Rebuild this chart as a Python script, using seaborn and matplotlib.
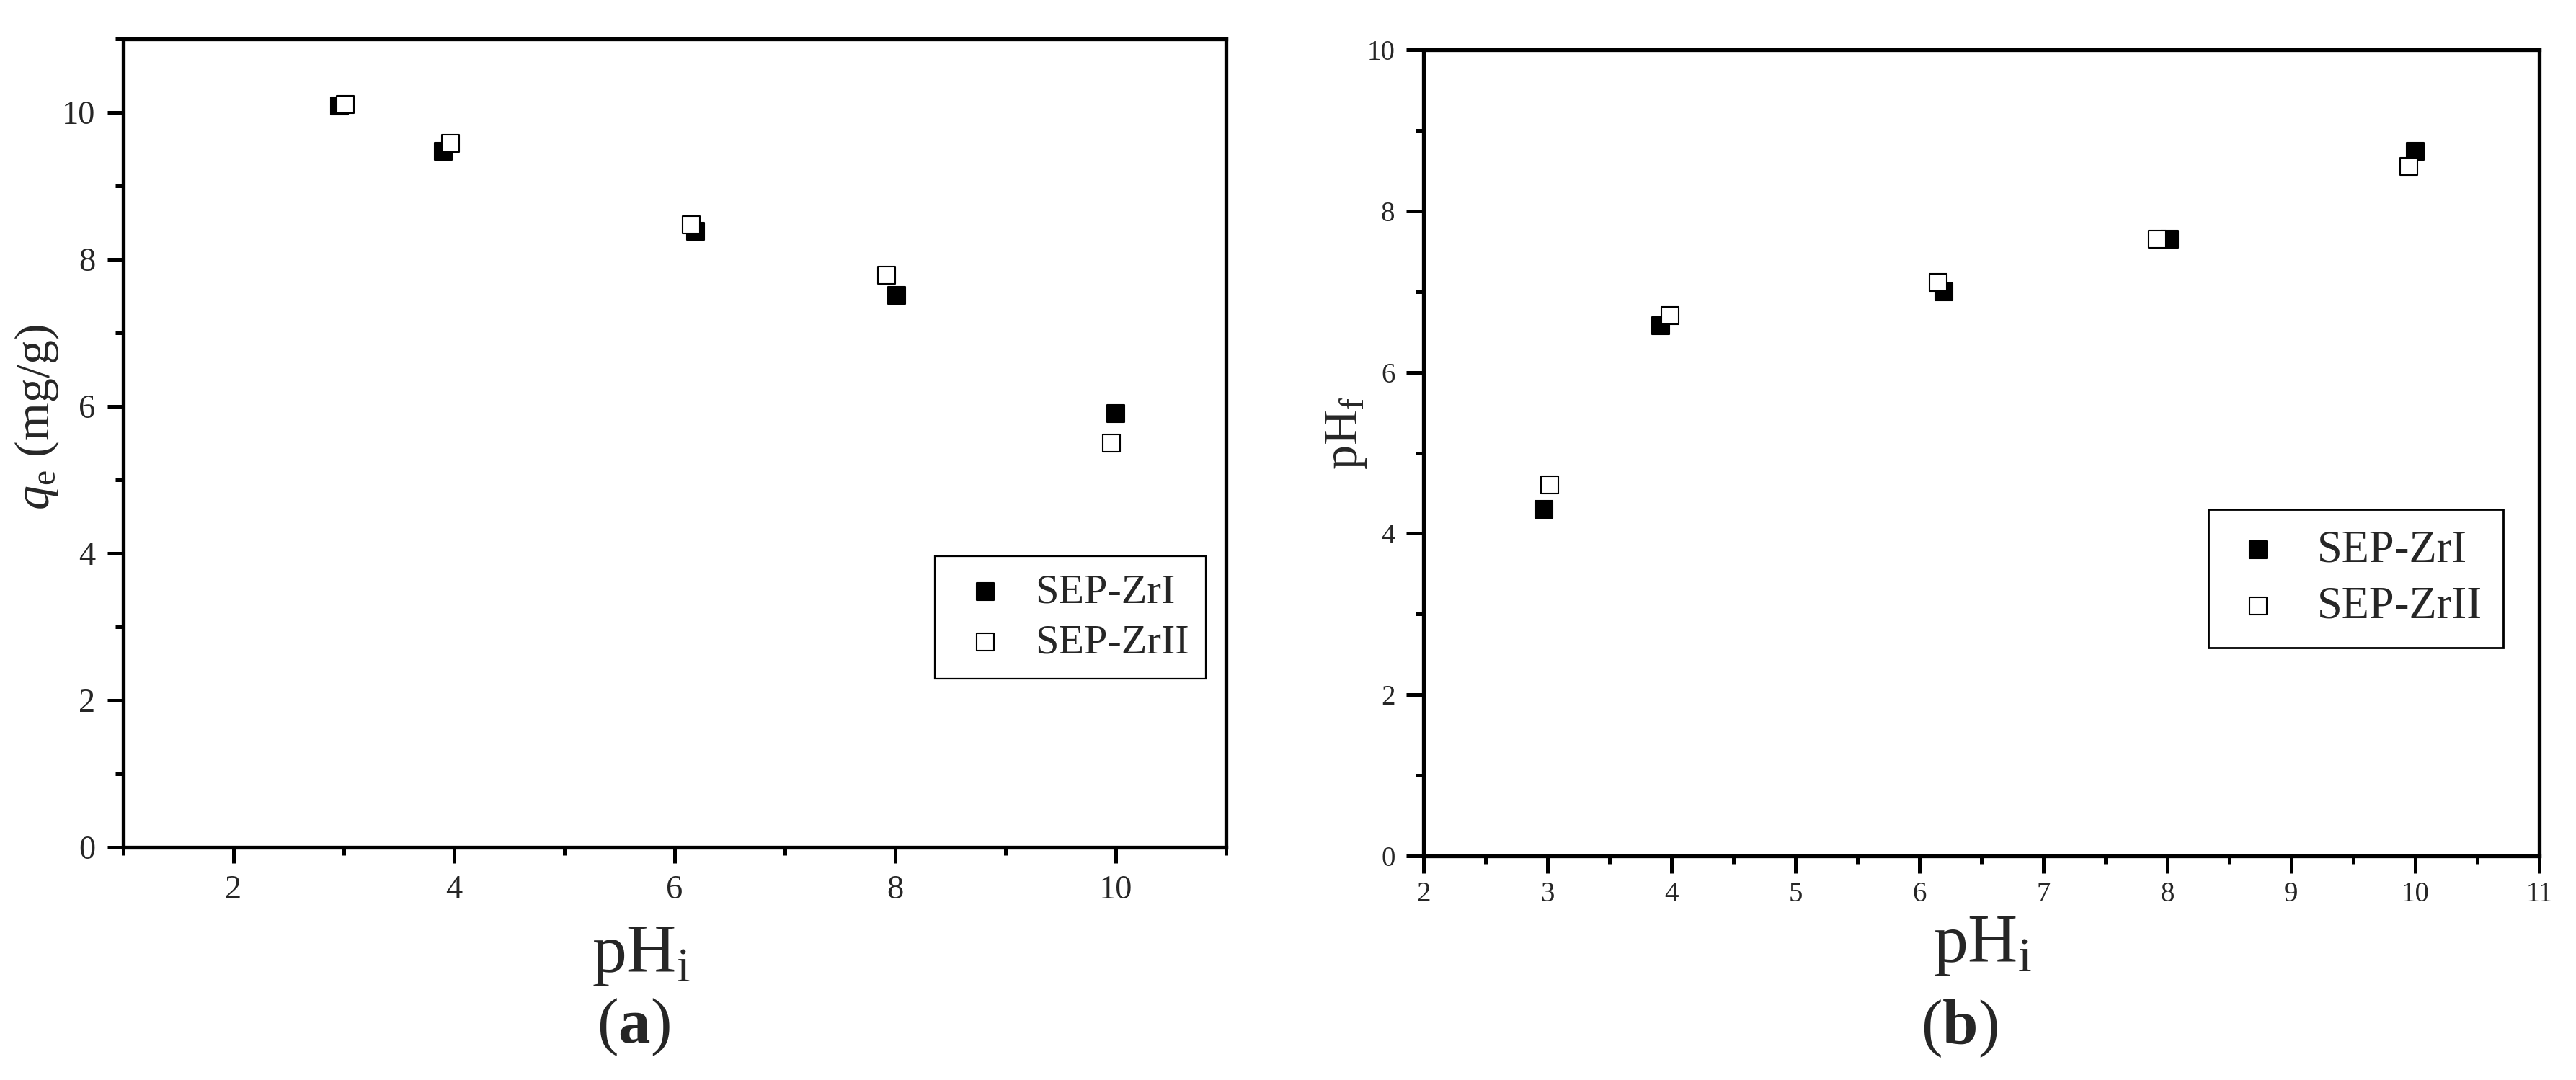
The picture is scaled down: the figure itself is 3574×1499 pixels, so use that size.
import numpy as np
import pandas as pd
import matplotlib
matplotlib.use('Agg')
import matplotlib.pyplot as plt
import seaborn as sns
from matplotlib.ticker import MultipleLocator

# (a) q_e versus initial pH
ph_i_zr1_a = [2.96, 3.90, 6.19, 8.01, 10.00]
qe_zr1 = [10.09, 9.47, 8.38, 7.51, 5.90]
ph_i_zr2_a = [3.01, 3.97, 6.15, 7.92, 9.96]
qe_zr2 = [10.11, 9.58, 8.47, 7.78, 5.50]

# (b) final pH versus initial pH
ph_i_zr1_b = [2.97, 3.91, 6.20, 8.02, 10.00]
phf_zr1 = [4.30, 6.58, 7.00, 7.65, 8.74]
ph_i_zr2_b = [3.02, 3.99, 6.15, 7.92, 9.95]
phf_zr2 = [4.60, 6.70, 7.11, 7.65, 8.55]

series_names = ['SEP-ZrI', 'SEP-ZrII']

sns.set_style('ticks')
plt.rcParams['font.family'] = ['Liberation Serif', 'DejaVu Serif']
plt.rcParams['mathtext.fontset'] = 'custom'
plt.rcParams['mathtext.rm'] = 'Liberation Serif'
plt.rcParams['mathtext.it'] = 'Liberation Serif:italic'
plt.rcParams['mathtext.bf'] = 'Liberation Serif:bold'

W, H = 3574, 1499
fig = plt.figure(figsize=(W / 100, H / 100), dpi=100)


def px_axes(x0, y0, x1, y1):
    return fig.add_axes([x0 / W, 1 - y1 / H, (x1 - x0) / W, (y1 - y0) / H])


ax1 = px_axes(171, 54, 1701, 1176)
ax2 = px_axes(1975, 69, 3523, 1188)

msize = 300
for ax, xs, ys in [(ax1, [ph_i_zr1_a, ph_i_zr2_a], [qe_zr1, qe_zr2]),
                   (ax2, [ph_i_zr1_b, ph_i_zr2_b], [phf_zr1, phf_zr2])]:
    sns.scatterplot(x=xs[0], y=ys[0], marker='s', s=msize, color='black',
                    edgecolor='black', linewidth=1.5, label=series_names[0], ax=ax)
    sns.scatterplot(x=xs[1], y=ys[1], marker='s', s=msize, color='white',
                    edgecolor='black', linewidth=1.5, label=series_names[1], ax=ax)


def style(ax, tick_fs, major_len, xpad, ypad):
    for sp in ax.spines.values():
        sp.set_visible(True)
        sp.set_linewidth(3.8)
        sp.set_color('black')
    ax.tick_params(which='both', direction='out', top=False, right=False,
                   width=3.6, color='black')
    ax.tick_params(which='major', length=major_len, labelsize=tick_fs)
    ax.tick_params(which='minor', length=8)
    ax.tick_params(axis='x', which='major', pad=xpad)
    ax.tick_params(axis='y', which='major', pad=ypad)


# panel (a)
ax1.set_xlim(1, 11)
ax1.set_ylim(0, 11)
ax1.xaxis.set_major_locator(MultipleLocator(2))
ax1.xaxis.set_minor_locator(MultipleLocator(1))
ax1.yaxis.set_major_locator(MultipleLocator(2))
ax1.yaxis.set_minor_locator(MultipleLocator(1))
style(ax1, 33.5, 16, 12, 12)

# panel (b)
ax2.set_xlim(2, 11)
ax2.set_ylim(0, 10)
ax2.xaxis.set_major_locator(MultipleLocator(1))
ax2.xaxis.set_minor_locator(MultipleLocator(0.5))
ax2.yaxis.set_major_locator(MultipleLocator(2))
ax2.yaxis.set_minor_locator(MultipleLocator(1))
style(ax2, 28, 17, 8.5, 11.5)

# axis labels
ax1.set_xlabel(r'pH$_{\mathrm{i}}$', fontsize=69)
ax1.xaxis.set_label_coords(0.470, -0.154)
ax1.xaxis.label.set_verticalalignment('baseline')
ax1.set_ylabel(r'$q_{\mathrm{e}}$ (mg/g)', fontsize=49)
ax1.yaxis.set_label_coords(-0.0673, 0.532)
ax1.yaxis.label.set_verticalalignment('baseline')

ax2.set_xlabel(r'pH$_{\mathrm{i}}$', fontsize=69)
ax2.xaxis.set_label_coords(0.501, -0.131)
ax2.xaxis.label.set_verticalalignment('baseline')
ax2.set_ylabel(r'pH$_{\mathrm{f}}$', fontsize=49)
ax2.yaxis.set_label_coords(-0.0594, 0.5246)
ax2.yaxis.label.set_verticalalignment('baseline')

# legends
leg1 = ax1.legend(loc='upper left', bbox_to_anchor=(0.736, 0.360), borderaxespad=0,
                  fontsize=42, frameon=True, fancybox=False, edgecolor='black',
                  framealpha=1, borderpad=0.4, handlelength=1.6, handletextpad=0.38,
                  labelspacing=0.3)
leg1.get_frame().set_linewidth(1.6)
leg2 = ax2.legend(loc='upper left', bbox_to_anchor=(0.7035, 0.4298), borderaxespad=0,
                  fontsize=45, frameon=True, fancybox=False, edgecolor='black',
                  framealpha=1, borderpad=0.45, handlelength=1.3, handletextpad=0.67,
                  labelspacing=0.32)
leg2.get_frame().set_linewidth(2.0)

# panel letters
fig.text(879 / W, 1 - 1447 / H, r'($\mathbf{a}$)', ha='center', va='baseline', fontsize=64)
fig.text(2718 / W, 1 - 1449 / H, r'($\mathbf{b}$)', ha='center', va='baseline', fontsize=64)

fig.savefig('out.png', dpi=100, facecolor='white')
